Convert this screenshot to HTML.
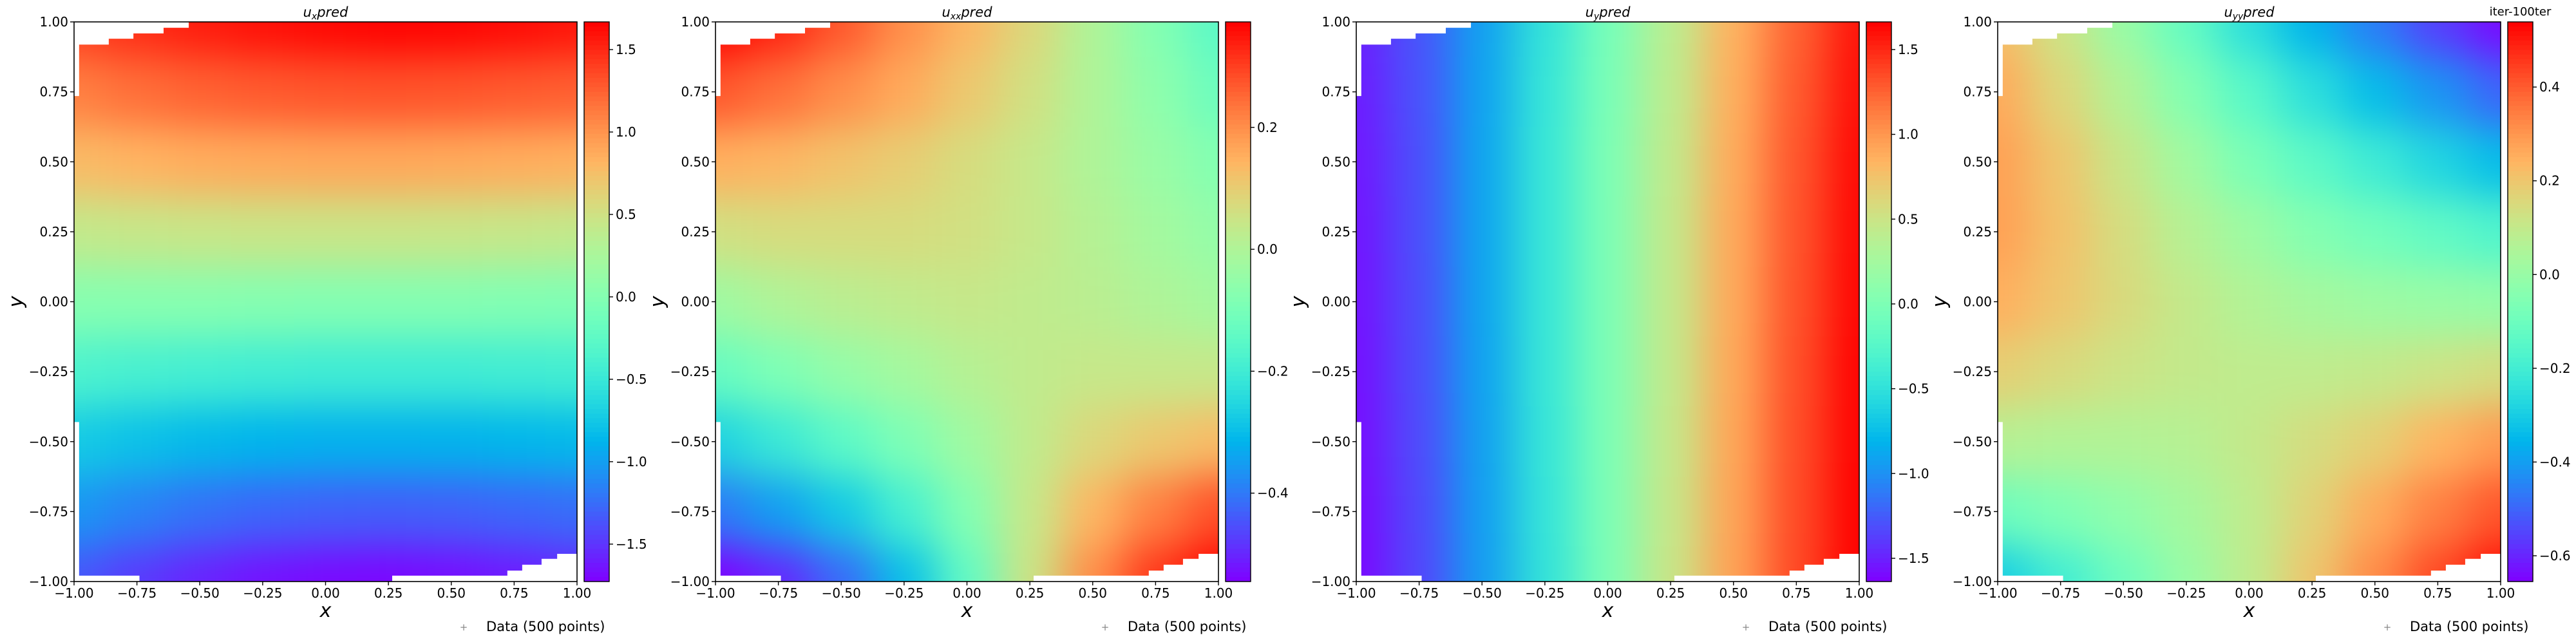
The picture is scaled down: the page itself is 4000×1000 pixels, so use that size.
<!DOCTYPE html>
<html><head><meta charset="utf-8">
<style>
html,body{margin:0;padding:0;background:#fff;width:4000px;height:1000px;overflow:hidden;}
svg{display:block;overflow:hidden;font-family:"DejaVu Sans","Liberation Sans",sans-serif;}
</style></head>
<body>
<svg id="fig" width="4000" height="1000" viewBox="0 0 4000 1000" xmlns="http://www.w3.org/2000/svg">
<defs>
<filter id="smooth" x="-10%" y="-10%" width="120%" height="120%" color-interpolation-filters="sRGB">
<feGaussianBlur stdDeviation="32"/>
</filter>
</defs>
</svg>
<script>
// ---- data ----
const gridX = [-1,-0.75,-0.5,-0.25,0,0.25,0.5,0.75,1];
const gridY = [1,0.75,0.5,0.25,0,-0.25,-0.5,-0.75,-1];
const axisTicks = [-1,-0.75,-0.5,-0.25,0,0.25,0.5,0.75,1];
const axisTickLabels = ["\u22121.00","\u22120.75","\u22120.50","\u22120.25","0.00","0.25","0.50","0.75","1.00"];
const titles = [["u","x","pred"],["u","xx","pred"],["u","y","pred"],["u","yy","pred"]];
const cbarMin = [-1.727,-0.545,-1.637,-0.655];
const cbarMax = [1.668,0.373,1.663,0.539];
const cbarTicks0 = [-1.5,-1.0,-0.5,0.0,0.5,1.0,1.5];
const cbarTicks1 = [-0.4,-0.2,0.0,0.2];
const cbarTicks2 = [-1.5,-1.0,-0.5,0.0,0.5,1.0,1.5];
const cbarTicks3 = [-0.6,-0.4,-0.2,0.0,0.2,0.4];
const field0 = [
[1.40,1.48,1.55,1.60,1.64,1.66,1.65,1.62,1.58],
[1.10,1.18,1.24,1.28,1.30,1.31,1.30,1.28,1.25],
[0.78,0.82,0.86,0.88,0.89,0.89,0.88,0.86,0.84],
[0.42,0.44,0.45,0.46,0.46,0.46,0.45,0.44,0.42],
[0.02,0.02,0.02,0.01,0.00,0.00,0.00,-0.01,-0.02],
[-0.36,-0.40,-0.42,-0.44,-0.45,-0.45,-0.45,-0.44,-0.43],
[-0.74,-0.80,-0.85,-0.88,-0.90,-0.90,-0.89,-0.87,-0.85],
[-1.05,-1.15,-1.23,-1.28,-1.31,-1.32,-1.31,-1.28,-1.25],
[-1.35,-1.48,-1.58,-1.65,-1.69,-1.70,-1.67,-1.62,-1.56]];
const field1 = [
[0.37,0.33,0.27,0.20,0.14,0.08,0.00,-0.08,-0.15],
[0.27,0.24,0.20,0.16,0.11,0.06,0.00,-0.06,-0.12],
[0.15,0.14,0.12,0.10,0.07,0.04,0.00,-0.04,-0.08],
[0.06,0.07,0.07,0.07,0.06,0.04,0.01,-0.02,-0.05],
[-0.03,0.00,0.02,0.03,0.04,0.03,0.02,0.00,-0.02],
[-0.13,-0.09,-0.05,-0.02,0.01,0.03,0.04,0.04,0.04],
[-0.26,-0.21,-0.15,-0.09,-0.03,0.03,0.08,0.11,0.13],
[-0.40,-0.35,-0.28,-0.19,-0.08,0.04,0.14,0.22,0.28],
[-0.55,-0.50,-0.42,-0.30,-0.14,0.05,0.20,0.31,0.37]];
const field2 = [
[-1.50,-1.28,-0.92,-0.48,-0.04,0.40,0.85,1.25,1.58],
[-1.52,-1.29,-0.91,-0.46,-0.02,0.42,0.87,1.28,1.60],
[-1.54,-1.30,-0.90,-0.45,0.00,0.44,0.89,1.30,1.62],
[-1.55,-1.30,-0.90,-0.45,0.00,0.45,0.90,1.31,1.63],
[-1.56,-1.31,-0.90,-0.45,0.00,0.45,0.90,1.32,1.64],
[-1.57,-1.31,-0.91,-0.45,0.00,0.45,0.91,1.33,1.65],
[-1.58,-1.32,-0.92,-0.46,0.00,0.46,0.92,1.34,1.65],
[-1.59,-1.33,-0.93,-0.47,0.00,0.47,0.93,1.35,1.66],
[-1.60,-1.34,-0.94,-0.48,0.00,0.48,0.94,1.36,1.66]];
const field3 = [
[0.22,0.12,0.00,-0.12,-0.25,-0.36,-0.46,-0.56,-0.64],
[0.26,0.16,0.06,-0.05,-0.15,-0.25,-0.34,-0.42,-0.50],
[0.28,0.20,0.11,0.02,-0.07,-0.14,-0.21,-0.28,-0.34],
[0.28,0.21,0.14,0.07,0.01,-0.05,-0.09,-0.13,-0.17],
[0.25,0.20,0.15,0.10,0.06,0.03,0.01,0.00,-0.01],
[0.18,0.15,0.12,0.10,0.09,0.09,0.10,0.12,0.14],
[0.07,0.06,0.06,0.07,0.10,0.14,0.18,0.24,0.29],
[-0.10,-0.06,-0.02,0.03,0.09,0.17,0.26,0.34,0.41],
[-0.30,-0.20,-0.10,0.00,0.09,0.20,0.32,0.43,0.52]];
const maskTL = [[-1,1],[-0.544,1],[-0.544,0.979],[-0.644,0.979],[-0.644,0.959],[-0.764,0.959],[-0.764,0.940],[-0.862,0.940],[-0.862,0.919],[-0.980,0.919],[-0.980,0.735],[-1,0.735]];
const maskBL = [[-1,-0.43],[-0.980,-0.43],[-0.980,-0.979],[-0.74,-0.979],[-0.74,-1],[-1,-1]];
const maskBR = [[0.265,-1],[0.265,-0.979],[0.723,-0.979],[0.723,-0.961],[0.782,-0.961],[0.782,-0.940],[0.859,-0.940],[0.859,-0.919],[0.921,-0.919],[0.921,-0.901],[1,-0.901],[1,-1]];

const fields = [field0,field1,field2,field3];
const cbarTicks = [cbarTicks0,cbarTicks1,cbarTicks2,cbarTicks3];

const NS = "http://www.w3.org/2000/svg";
const svg = document.getElementById('fig');
const panelLeft = [115,1111,2106,3102];
const PW = 781, PT = 34, PH = 869;

function rainbow(t){
  t = Math.max(0,Math.min(1,t));
  const r = Math.min(1,Math.abs(2*t-0.5));
  const g = Math.sin(Math.PI*t);
  const b = Math.cos(Math.PI*t/2);
  return `rgb(${Math.round(r*255)},${Math.round(g*255)},${Math.round(b*255)})`;
}
function el(tag, attrs, parent){
  const e = document.createElementNS(NS, tag);
  for (const k in attrs) e.setAttribute(k, attrs[k]);
  (parent||svg).appendChild(e);
  return e;
}
function fmt(v){ const s = v.toFixed(1); return v<0 ? "\u2212"+s.slice(1) : s; }

for (let p=0;p<4;p++){
  const L = panelLeft[p];
  const xs = v => L + (v+1)/2*PW;
  const ys = v => PT + (1-v)/2*PH;
  const g = el('g',{});
  
  

  const cp = el('clipPath',{id:'clip'+p}, g);
  el('rect',{x:L,y:PT,width:PW,height:PH}, cp);

  const hm = el('g',{'clip-path':`url(#clip${p})`}, g);
  
  
  const blurG = el('g',{filter:'url(#smooth)'}, hm);
  const f = fields[p];
  const dx = (xs(gridX[1])-xs(gridX[0]));
  const dy = (ys(gridY[1])-ys(gridY[0]));
  for (let i=0;i<gridY.length;i++){
    for (let j=0;j<gridX.length;j++){
      let x0 = xs(gridX[j])-dx/2, x1 = xs(gridX[j])+dx/2;
      let y0 = ys(gridY[i])-dy/2, y1 = ys(gridY[i])+dy/2;
      if (j===0) x0 -= 90; if (j===gridX.length-1) x1 += 90;
      if (i===0) y0 -= 30; if (i===gridY.length-1) y1 += 90;
      const t = (f[i][j]-cbarMin[p])/(cbarMax[p]-cbarMin[p]);
      const r = el('rect',{x:x0,y:y0,width:x1-x0+0.5,height:y1-y0+0.5,fill:rainbow(t)}, blurG);
      
      
    }
  }
  for (const m of [maskTL,maskBL,maskBR]){
    const poly = el('polygon',{points:m.map(q=>xs(q[0])+','+ys(q[1])).join(' '),fill:'#fff'}, hm);
    
    
  }
  const fr = el('rect',{x:L,y:PT,width:PW,height:PH,fill:'none',stroke:'#000','stroke-width':1.6}, g);
  
  

  for (let k=0;k<axisTicks.length;k++){
    const tx = xs(axisTicks[k]);
    el('line',{x1:tx,y1:PT+PH,x2:tx,y2:PT+PH+6,stroke:'#000','stroke-width':1.4}, g);
    const lt = el('text',{x:tx,y:PT+PH+25,'text-anchor':'middle','font-size':20}, g);
    lt.textContent = axisTickLabels[k];
    
    
    const ty = ys(axisTicks[k]);
    el('line',{x1:L-6,y1:ty,x2:L,y2:ty,stroke:'#000','stroke-width':1.4}, g);
    const yl = el('text',{x:L-9,y:ty+7,'text-anchor':'end','font-size':20}, g);
    yl.textContent = axisTickLabels[k];
    
    
  }
  const xt = el('text',{x:L+PW/2,y:958,'text-anchor':'middle','font-size':30,'font-style':'italic'}, g);
  xt.textContent = 'x';
  
  
  const ytt = el('text',{x:L-90,y:PT+PH/2,'text-anchor':'middle','font-size':30,'font-style':'italic',transform:`rotate(-90 ${L-90} ${PT+PH/2})`,dy:10}, g);
  ytt.textContent = 'y';
  
  
  const tt = el('text',{x:L+PW/2,y:26,'text-anchor':'middle','font-size':21,'font-style':'italic'}, g);
  
  
  const t1 = el('tspan',{}, tt); t1.textContent = titles[p][0];
  const t2 = el('tspan',{'font-size':14,dy:4}, tt); t2.textContent = titles[p][1];
  const t3 = el('tspan',{dy:-4}, tt); t3.textContent = titles[p][2];

  const lg = el('g',{}, g);
  
  
  el('text',{x:L+605,y:979,'font-size':15,fill:'#888','text-anchor':'middle'}, lg).textContent = '+';
  const ltx = el('text',{x:L+640,y:980,'font-size':21}, lg);
  ltx.textContent = 'Data (500 points)';
  
  

  const CX = L+PW+11, CW = 39;
  const cb = el('g',{}, g);
  
  
  const N = 120;
  for (let k=0;k<N;k++){
    const y0 = PT + PH*k/N;
    el('rect',{x:CX,y:y0,width:CW,height:PH/N+0.6,fill:rainbow(1-(k+0.5)/N)}, cb);
  }
  el('rect',{x:CX,y:PT,width:CW,height:PH,fill:'none',stroke:'#000','stroke-width':1.4}, cb);
  const cs = v => PT + (cbarMax[p]-v)/(cbarMax[p]-cbarMin[p])*PH;
  for (const v of cbarTicks[p]){
    const y = cs(v);
    el('line',{x1:CX+CW,y1:y,x2:CX+CW+6,y2:y,stroke:'#000','stroke-width':1.4}, cb);
    const ct = el('text',{x:CX+CW+10,y:y+7,'font-size':20}, cb);
    ct.textContent = fmt(v);
    
    
  }
  if (p===3){
    const it = el('text',{x:CX+CW/2,y:24,'text-anchor':'middle','font-size':18}, cb);
    it.textContent = 'iter-100ter';
    
    
  }
}
</script>
</body></html>
